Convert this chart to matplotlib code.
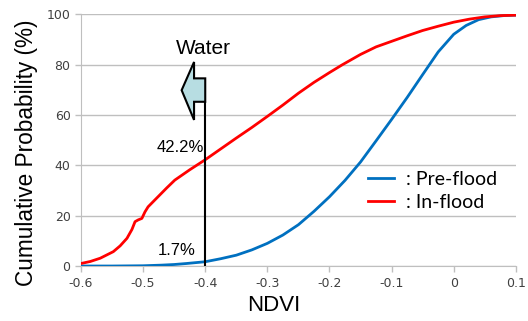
import numpy as np
import matplotlib.pyplot as plt
from matplotlib.patches import Polygon

# dados
ndvi_in = [-0.6, -0.585, -0.569, -0.548, -0.537, -0.526, -0.518, -0.513, -0.508,
           -0.502, -0.497, -0.492, -0.484, -0.476, -0.462, -0.449, -0.425, -0.4,
           -0.375, -0.35, -0.325, -0.3, -0.275, -0.25, -0.225, -0.2, -0.18,
           -0.15, -0.125, -0.1, -0.075, -0.05, -0.025, 0.0, 0.025, 0.05, 0.075, 0.1]
prob_in = [1.0, 1.8, 3.1, 5.7, 8.0, 11.0, 14.5, 17.6, 18.3,
           18.9, 21.5, 23.5, 25.5, 27.5, 31.0, 34.1, 38.2, 42.2,
           46.5, 50.8, 55.0, 59.4, 63.9, 68.6, 72.9, 76.8, 79.8,
           84.0, 87.0, 89.2, 91.4, 93.5, 95.2, 96.8, 98.0, 98.9, 99.4, 99.6]

ndvi_pre = [-0.6, -0.55, -0.5, -0.47, -0.45, -0.43, -0.4, -0.375, -0.35, -0.325,
            -0.3, -0.275, -0.25, -0.225, -0.2, -0.175, -0.15, -0.125, -0.1,
            -0.075, -0.05, -0.025, 0.0, 0.02, 0.04, 0.06, 0.08, 0.1]
prob_pre = [0.0, 0.0, 0.1, 0.35, 0.6, 1.0, 1.7, 2.9, 4.3, 6.4,
            9.0, 12.3, 16.4, 21.7, 27.5, 34.0, 41.3, 49.7, 58.2,
            66.9, 76.0, 85.0, 92.0, 95.5, 97.8, 98.9, 99.4, 99.6]

xticks = [-0.6, -0.5, -0.4, -0.3, -0.2, -0.1, 0, 0.1]
xticklabels = ['-0.6', '-0.5', '-0.4', '-0.3', '-0.2', '-0.1', '0', '0.1']
yticks = [0, 20, 40, 60, 80, 100]

fig = plt.figure(figsize=(5.28, 3.21), dpi=100)
ax = fig.add_axes([0.1534, 0.1713, 0.8236, 0.7847])

ax.plot(ndvi_pre, prob_pre, color='#0070c0', lw=2, label=': Pre-flood', zorder=3)
ax.plot(ndvi_in, prob_in, color='#ff0000', lw=2, label=': In-flood', zorder=3)

ax.set_xlim(-0.6, 0.1)
ax.set_ylim(0, 100)
ax.set_xticks(xticks)
ax.set_xticklabels(xticklabels)
ax.set_yticks(yticks)
ax.grid(axis='y', color='#bfbfbf', lw=1)
ax.set_axisbelow(True)
for s in ['top', 'right']:
    ax.spines[s].set_visible(False)
for s in ['left', 'bottom']:
    ax.spines[s].set_color('#bfbfbf')
ax.tick_params(colors='#bfbfbf', length=4, width=1, labelcolor='#404040',
               labelsize=9)
ax.tick_params(axis='x', pad=4)

ax.set_xlabel('NDVI', fontsize=16, family='Liberation Sans')
ax.set_ylabel('Cumulative Probability (%)', fontsize=16.3,
              family='Liberation Sans')
ax.xaxis.set_label_coords(0.444, -0.115)
ax.yaxis.set_label_coords(-0.1, 0.45)

leg = ax.legend(loc='lower right', bbox_to_anchor=(0.997, 0.15), frameon=False,
                prop={'family': 'Lato', 'size': 14}, handlelength=1.35,
                handletextpad=0.6, labelspacing=0.3)

# seta "Water"
arrow = Polygon([(-0.4, 74.5), (-0.418, 74.5), (-0.418, 81), (-0.438, 69.8),
                 (-0.418, 58), (-0.418, 65.2), (-0.4, 65.2)],
                closed=True, facecolor='#b7dde2', edgecolor='black', lw=1.5,
                zorder=4)
ax.add_patch(arrow)
ax.plot([-0.4, -0.4], [65.2, 0], color='black', lw=1.5, zorder=5)

ax.text(-0.403, 86.5, 'Water', fontsize=15, family='Liberation Sans',
        ha='center', va='center')
ax.text(-0.402, 47, '42.2%', fontsize=12, family='Liberation Sans',
        ha='right', va='center')
ax.text(-0.415, 6.2, '1.7%', fontsize=12, family='Liberation Sans',
        ha='right', va='center')

fig.savefig('out.png', dpi=100)
